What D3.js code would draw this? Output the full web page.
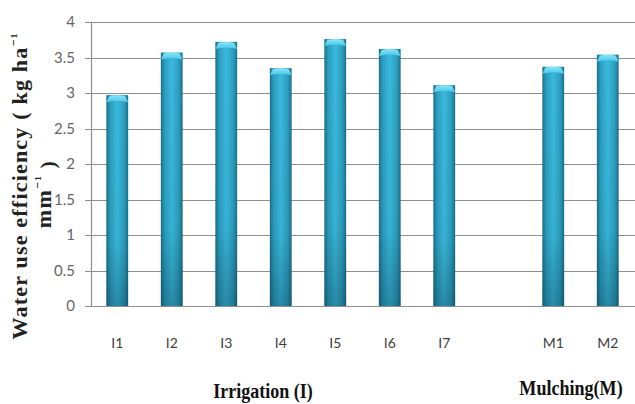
<!DOCTYPE html>
<html>
<head>
<meta charset="utf-8">
<script src="https://cdn.jsdelivr.net/npm/d3@7"></script>
<style>
  html, body { margin: 0; padding: 0; background: #fff; }
  svg { display: block; }
</style>
</head>
<body>
<svg id="chart" width="635" height="404"></svg>
<script>
// ---- data ----
const categories = ["I1", "I2", "I3", "I4", "I5", "I6", "I7", "gap", "M1", "M2"];
const categoryLabels = ["I1", "I2", "I3", "I4", "I5", "I6", "I7", "", "M1", "M2"];
const values = [2.97, 3.57, 3.72, 3.35, 3.76, 3.62, 3.11, null, 3.37, 3.54];
const yTicks = [0, 0.5, 1, 1.5, 2, 2.5, 3, 3.5, 4];
const yTickLabels = ["0", "0.5", "1", "1.5", "2", "2.5", "3", "3.5", "4"];
const groupTitles = ["Irrigation (I)", "Mulching(M)"];

// ---- layout ----
const svg = d3.select("#chart");
const plotLeft = 91, plotRight = 635, plotTop = 22, plotBottom = 306;

const x = d3.scaleBand().domain(categories).range([90, 635]).paddingInner(0.6).paddingOuter(0.3);
const y = d3.scaleLinear().domain([0, 4]).range([plotBottom, plotTop]);

const defs = svg.append("defs");
const hg = defs.append("linearGradient").attr("id", "hgrad").attr("x1", "0").attr("x2", "1").attr("y1", "0").attr("y2", "0");
[["0%", "#1c7089"], ["18%", "#2b9fc0"], ["50%", "#3bbadd"], ["82%", "#2b9fc0"], ["100%", "#1c7089"]]
  .forEach(([o, c]) => hg.append("stop").attr("offset", o).attr("stop-color", c));
const vg = defs.append("linearGradient").attr("id", "vgrad").attr("x1", "0").attr("x2", "0").attr("y1", "0").attr("y2", "1");
[["0%", "rgba(0,30,45,0)"], ["70%", "rgba(0,30,45,0.05)"], ["100%", "rgba(0,30,45,0.3)"]]
  .forEach(([o, c]) => vg.append("stop").attr("offset", o).attr("stop-color", c));
const cg = defs.append("linearGradient").attr("id", "cgrad").attr("x1", "0").attr("x2", "0").attr("y1", "0").attr("y2", "1");
[["0%", "#8ae6fa"], ["100%", "#48c6e6"]]
  .forEach(([o, c]) => cg.append("stop").attr("offset", o).attr("stop-color", c));

// ---- gridlines ----
svg.append("g").selectAll("line").data(yTicks).join("line")
  .attr("x1", plotLeft - 6).attr("x2", plotRight)
  .attr("y1", d => Math.round(y(d)) + 0.5).attr("y2", d => Math.round(y(d)) + 0.5)
  .attr("stroke", "#8f8f8f").attr("stroke-width", 1.2);

// y axis line
svg.append("line").attr("x1", plotLeft + 0.5).attr("x2", plotLeft + 0.5)
  .attr("y1", y(4)).attr("y2", y(0) + 0.5).attr("stroke", "#8f8f8f").attr("stroke-width", 1.2);

// y tick labels
svg.append("g").selectAll("text").data(yTicks).join("text")
  .attr("x", 75).attr("y", d => y(d)).attr("dy", "0.35em")
  .attr("text-anchor", "end")
  .attr("font-family", "Lato, 'Open Sans', sans-serif").attr("font-size", 15)
  .attr("fill", "#666")
  .text((d, i) => yTickLabels[i]);

// ---- bars ----
const barData = categories.map((c, i) => ({ c, v: values[i] })).filter(d => d.v != null);
const bars = svg.append("g");
bars.selectAll("rect.body").data(barData).join("rect").attr("class", "body")
  .attr("x", d => x(d.c)).attr("width", x.bandwidth())
  .attr("y", d => y(d.v)).attr("height", d => y(0) - y(d.v))
  .attr("fill", "url(#hgrad)");
bars.selectAll("rect.shade").data(barData).join("rect").attr("class", "shade")
  .attr("x", d => x(d.c)).attr("width", x.bandwidth())
  .attr("y", d => y(d.v)).attr("height", d => y(0) - y(d.v))
  .attr("fill", "url(#vgrad)");
bars.selectAll("path.cap").data(barData).join("path").attr("class", "cap")
  .attr("d", d => {
    const x0 = x(d.c), w = x.bandwidth(), t = y(d.v);
    return `M${x0},${t + 7} L${x0 + 3},${t + 1} Q${x0 + w / 2},${t - 1} ${x0 + w - 3},${t + 1} L${x0 + w},${t + 7} Q${x0 + w / 2},${t + 4} ${x0},${t + 7} Z`;
  })
  .attr("fill", "url(#cgrad)");

// ---- x tick labels ----
svg.append("g").selectAll("text").data(categories).join("text")
  .attr("x", d => x(d) + x.bandwidth() / 2).attr("y", 348)
  .attr("text-anchor", "middle")
  .attr("font-family", "Lato, 'Open Sans', sans-serif").attr("font-size", 14)
  .attr("fill", "#404040")
  .text((d, i) => categoryLabels[i]);

// ---- group titles ----
const titleFont = "'Liberation Serif', 'DejaVu Serif', serif";
svg.append("text").attr("transform", "translate(263,398) scale(0.82,1)").attr("text-anchor", "middle")
  .attr("font-family", titleFont).attr("font-weight", "bold").attr("font-size", 22)
  .attr("fill", "#111").text(groupTitles[0]);
svg.append("text").attr("transform", "translate(571,395) scale(0.86,1)").attr("text-anchor", "middle")
  .attr("font-family", titleFont).attr("font-weight", "bold").attr("font-size", 21)
  .attr("fill", "#111").text(groupTitles[1]);

// ---- y axis title (two lines, rotated) ----
const yt = svg.append("g");
const l1 = yt.append("text").attr("transform", "translate(27,186) rotate(-90)")
  .attr("text-anchor", "middle")
  .attr("font-family", titleFont).attr("font-weight", "bold").attr("font-size", 22)
  .attr("letter-spacing", 1.2)
  .attr("fill", "#222");
l1.append("tspan").text("Water use efficiency ( kg ha");
l1.append("tspan").attr("dy", "-0.45em").attr("font-size", 14).text("\u207B\u00B9");
const l2 = yt.append("text").attr("transform", "translate(51,194) rotate(-90)")
  .attr("text-anchor", "middle")
  .attr("font-family", titleFont).attr("font-weight", "bold").attr("font-size", 22)
  .attr("letter-spacing", 1.2)
  .attr("fill", "#222");
l2.append("tspan").text("mm");
l2.append("tspan").attr("dy", "-0.45em").attr("font-size", 14).text("\u207B\u00B9");
l2.append("tspan").attr("dy", "0.45em").text(" )");
</script>
</body>
</html>
